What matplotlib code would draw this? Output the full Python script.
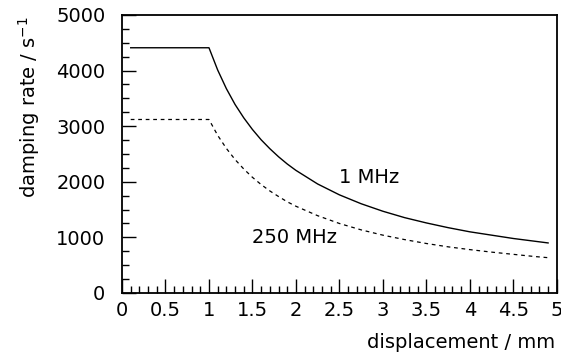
import matplotlib
matplotlib.use("Agg")
import matplotlib.pyplot as plt
from matplotlib.ticker import MultipleLocator, FormatStrFormatter

x_vals = [0.1, 1.0, 1.1, 1.2, 1.3, 1.4, 1.5, 1.6, 1.7, 1.8, 1.9, 2.0,
          2.25, 2.5, 2.75, 3.0, 3.25, 3.5, 3.75, 4.0, 4.25, 4.5, 4.75, 4.9]
rate_1mhz = [4410, 4410, 4010, 3675, 3390, 3150, 2940, 2755, 2595, 2450, 2320, 2205,
             1960, 1765, 1605, 1470, 1355, 1260, 1175, 1100, 1040, 980, 930, 900]
rate_250mhz = [3120, 3120, 2835, 2600, 2400, 2230, 2080, 1950, 1835, 1735, 1640, 1560,
               1390, 1250, 1135, 1040, 960, 890, 830, 780, 735, 695, 655, 635]

plt.rcParams['font.family'] = ['DejaVu Sans']
FS = 14
fig = plt.figure(figsize=(5.61, 3.56), dpi=100)
ax = fig.add_axes([0.2175, 0.177, 0.775, 0.781])

ax.plot(x_vals, rate_1mhz, color='black', lw=1.0)
ax.plot(x_vals, rate_250mhz, color='black', lw=0.9, ls=(0, (3, 3)))

ax.set_xlim(0, 5)
ax.set_ylim(0, 5000)
ax.xaxis.set_major_locator(MultipleLocator(0.5))
ax.xaxis.set_minor_locator(MultipleLocator(0.1))
ax.xaxis.set_major_formatter(FormatStrFormatter('%g'))
ax.yaxis.set_major_locator(MultipleLocator(1000))
ax.yaxis.set_minor_locator(MultipleLocator(250))
ax.tick_params(which='both', direction='in', top=False, right=False, labelsize=FS, width=1)
ax.tick_params(which='major', length=10)
ax.tick_params(which='minor', length=5)
ax.tick_params(axis='x', pad=6)
ax.tick_params(axis='y', pad=12)
for s in ax.spines.values():
    s.set_linewidth(1.3)

ax.text(2.5, 2070, '1 MHz', fontsize=FS, va='center', ha='left')
ax.text(1.49, 990, '250 MHz', fontsize=FS, va='center', ha='left')

fig.text(555 / 561, 1 - 343 / 356, 'displacement / mm', fontsize=FS, ha='right', va='center')
fig.text(16 / 561, 1 - 16 / 356, 'damping rate / s$^{-1}$', fontsize=FS, rotation=90,
         ha='left', va='top')

fig.savefig('out.png', dpi=100)
